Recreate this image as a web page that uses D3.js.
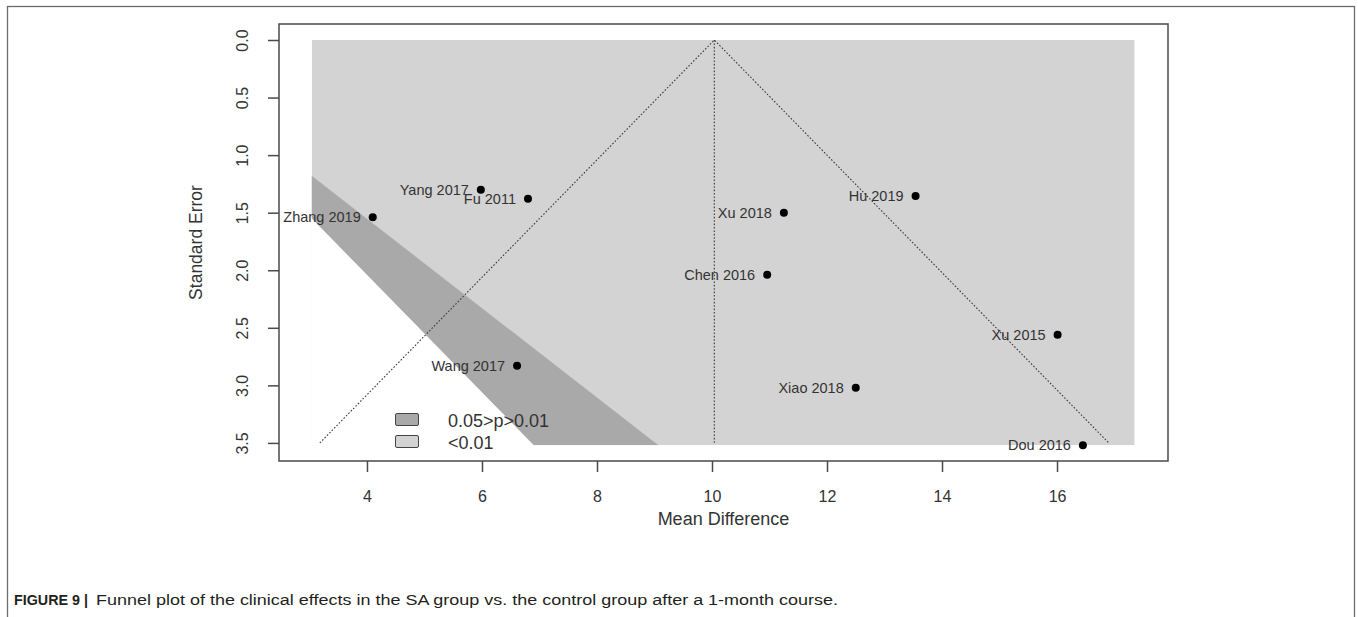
<!DOCTYPE html>
<html>
<head>
<meta charset="utf-8">
<script src="https://cdn.jsdelivr.net/npm/d3@7"></script>
<style>
  html, body { margin: 0; padding: 0; background: #fff; }
  svg { display: block; font-family: "Liberation Sans", Arial, sans-serif; }
</style>
</head>
<body>
<svg id="chart" width="1358" height="617"></svg>
<script>
// Studies in the funnel plot: mean difference vs. standard error
const studies  = ["Yang 2017", "Fu 2011", "Zhang 2019", "Xu 2018", "Hu 2019",
                  "Chen 2016", "Xu 2015", "Wang 2017", "Xiao 2018", "Dou 2016"];
const meanDiff = [5.98, 6.80, 4.10, 11.25, 13.54, 10.96, 16.01, 6.61, 12.50, 16.45];
const stdErr   = [1.30, 1.38, 1.54, 1.50, 1.355, 2.04, 2.56, 2.83, 3.02, 3.52];

// Pooled estimate and pseudo-confidence funnel (95%)
const pooledEstimate = 10.04;
const funnelZ = 1.96;
const funnelSeMax = 3.5;

// Contour shading around zero: 0.05 > p > 0.01 and p < 0.01
const contourZ = [1.96, 2.576];
const legendLabels = ["0.05>p>0.01", "<0.01"];
const shadeColors = ["#a9a9a9", "#d3d3d3"];
const shadeX = [3.04, 17.35];
const shadeSe = [0, 3.52];

const xTicks = [4, 6, 8, 10, 12, 14, 16];
const yTicks = [0, 0.5, 1, 1.5, 2, 2.5, 3, 3.5];

const svg = d3.select("#chart");

// Outer figure frame
svg.append("rect")
  .attr("x", 7.5).attr("y", 6.5).attr("width", 1347).attr("height", 640)
  .attr("fill", "none").attr("stroke", "#6b6b6b").attr("stroke-width", 1.3);

const box = { left: 279, right: 1168, top: 24, bottom: 461 };

const x = d3.scaleLinear().domain([2.47, 17.93]).range([box.left, box.right]);
const y = d3.scaleLinear().domain([-0.139, 3.657]).range([box.top, box.bottom]);

// Shading, clipped to the shaded region
svg.append("clipPath").attr("id", "shadeClip")
  .append("rect")
  .attr("x", x(shadeX[0])).attr("y", y(shadeSe[0]))
  .attr("width", x(shadeX[1]) - x(shadeX[0]))
  .attr("height", y(shadeSe[1]) - y(shadeSe[0]));

const shade = svg.append("g").attr("clip-path", "url(#shadeClip)");
const seM = shadeSe[1];

shade.append("rect")
  .attr("x", x(shadeX[0])).attr("y", y(shadeSe[0]))
  .attr("width", x(shadeX[1]) - x(shadeX[0]))
  .attr("height", y(shadeSe[1]) - y(shadeSe[0]))
  .attr("fill", shadeColors[1]);

const poly = d3.line().x(d => x(d[0])).y(d => y(d[1]));
// band between the two contour levels (both sides of zero)
[1, -1].forEach(s => {
  shade.append("path")
    .attr("d", poly([[0, 0], [s * contourZ[1] * seM, seM], [s * contourZ[0] * seM, seM]]) + "Z")
    .attr("fill", shadeColors[0]);
});
// non-significant region
shade.append("path")
  .attr("d", poly([[0, 0], [contourZ[0] * seM, seM], [-contourZ[0] * seM, seM]]) + "Z")
  .attr("fill", "#ffffff");

// Funnel lines
const funnel = svg.append("g")
  .attr("fill", "none").attr("stroke", "#3a3a3a")
  .attr("stroke-width", 1.1).attr("stroke-dasharray", "1.6,1.8");
funnel.append("path")
  .attr("d", poly([[pooledEstimate - funnelZ * funnelSeMax, funnelSeMax],
                   [pooledEstimate, 0],
                   [pooledEstimate + funnelZ * funnelSeMax, funnelSeMax]]));
funnel.append("path")
  .attr("d", poly([[pooledEstimate, 0], [pooledEstimate, funnelSeMax]]));

// Plot box
svg.append("rect")
  .attr("x", box.left).attr("y", box.top)
  .attr("width", box.right - box.left).attr("height", box.bottom - box.top)
  .attr("fill", "none").attr("stroke", "#4a4a4a").attr("stroke-width", 1.5);

// Axes
const xAxis = svg.append("g")
  .attr("transform", `translate(0,${box.bottom})`)
  .call(d3.axisBottom(x).tickValues(xTicks).tickSize(11).tickPadding(19).tickFormat(d3.format("d")));
const yAxis = svg.append("g")
  .attr("transform", `translate(${box.left},0)`)
  .call(d3.axisLeft(y).tickValues(yTicks).tickSize(11).tickFormat(d3.format(".1f")));

[xAxis, yAxis].forEach(g => {
  g.select(".domain").remove();
  g.selectAll(".tick line").attr("stroke", "#4a4a4a").attr("stroke-width", 1.5);
  g.selectAll(".tick text").attr("fill", "#333").attr("font-size", 16)
    .attr("font-family", "Liberation Sans, Arial, sans-serif");
});
xAxis.selectAll(".tick text").attr("dy", "0.71em");
yAxis.selectAll(".tick text")
  .attr("x", null).attr("dy", null)
  .attr("text-anchor", "middle")
  .attr("transform", d => `translate(${242 - box.left + 5.5},0) rotate(-90)`)
  .attr("y", 0);

// Axis titles
svg.append("text")
  .attr("x", (box.left + box.right) / 2).attr("y", 525)
  .attr("text-anchor", "middle").attr("font-size", 18).attr("fill", "#333")
  .text("Mean Difference");
svg.append("text")
  .attr("transform", `translate(202,${(box.top + box.bottom) / 2}) rotate(-90)`)
  .attr("text-anchor", "middle").attr("font-size", 17.5).attr("fill", "#333")
  .text("Standard Error");

// Study points and labels
const pts = svg.append("g");
studies.forEach((name, i) => {
  pts.append("circle")
    .attr("cx", x(meanDiff[i])).attr("cy", y(stdErr[i])).attr("r", 4)
    .attr("fill", "#000");
  pts.append("text")
    .attr("x", x(meanDiff[i]) - 12).attr("y", y(stdErr[i]))
    .attr("dy", "0.35em").attr("text-anchor", "end")
    .attr("font-size", 14.5).attr("fill", "#333")
    .text(name);
});

// Legend
const legend = svg.append("g");
legendLabels.forEach((lab, i) => {
  legend.append("rect")
    .attr("x", 395.5).attr("y", 413.5 + i * 22).attr("width", 23).attr("height", 12)
    .attr("rx", 1.5)
    .attr("fill", shadeColors[i]).attr("stroke", "#444").attr("stroke-width", 1);
  legend.append("text")
    .attr("x", 448).attr("y", 427 + i * 22)
    .attr("font-size", 18).attr("fill", "#333")
    .text(lab);
});

// Caption
svg.append("text")
  .attr("x", 14).attr("y", 605).attr("font-size", 15).attr("font-weight", "bold")
  .attr("fill", "#231f20")
  .attr("textLength", 74).attr("lengthAdjust", "spacingAndGlyphs")
  .text("FIGURE 9 |");
svg.append("text")
  .attr("x", 96).attr("y", 605).attr("font-size", 15.5).attr("fill", "#231f20")
  .attr("textLength", 742).attr("lengthAdjust", "spacingAndGlyphs")
  .text("Funnel plot of the clinical effects in the SA group vs. the control group after a 1-month course.");
</script>
</body>
</html>
